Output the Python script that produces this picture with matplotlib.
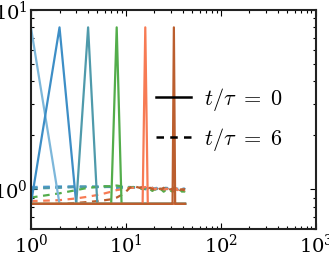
import matplotlib
matplotlib.use("Agg")
import matplotlib.pyplot as plt

plt.rcParams['mathtext.fontset'] = 'cm'
plt.rcParams['font.family'] = ['DejaVu Serif']

x = list(range(1, 43))
peaks = [1, 2, 4, 8, 16, 32]
colors = ['#7db7da', '#3d8ec6', '#4f9aab', '#53ad4b', '#f77b54', '#bb5e2e']
base = 0.83
peak_h = 8.0

dash_lb = [1.03,1.04,1.03,1.03,1.04,1.03,1.03,1.02,1.03,1.04,1.03,1.03,1.02,1.03,1.02,1.01,1.02,1.01,1.0,1.01,
           1.02,1.0,1.01,1.02,1.0,1.01,1.0,1.02,1.01,1.0,1.01,1.0,1.02,1.0,1.01,1.0,1.01,1.0,1.0,1.01,1.0,1.0]
dash_b = [1.02,1.03,1.04,1.03,1.03,1.04,1.03,1.02,1.03,1.03,1.02,1.03,1.02,1.02,1.01,1.02,1.0,1.01,1.02,1.0,
          1.01,1.0,1.02,1.01,1.0,1.01,1.02,1.0,1.0,1.01,1.0,1.02,1.01,1.0,1.0,1.01,1.0,1.01,1.0,1.0,1.01,1.0]
dash_t = [1.01,1.02,1.03,1.04,1.03,1.03,1.04,1.03,1.02,1.03,1.02,1.02,1.03,1.01,1.02,1.0,1.01,1.02,1.0,1.01,
          1.0,1.02,1.0,1.01,1.0,1.02,1.01,1.0,1.01,1.0,1.0,1.02,1.0,1.01,1.0,1.0,1.01,1.0,1.0,1.0,1.0,1.0]
dash_g = [0.90,0.95,0.99,1.02,1.03,1.04,1.04,1.05,1.04,1.03,1.02,1.03,1.01,1.02,1.0,1.01,0.99,1.0,0.98,1.0,
          0.99,0.98,1.0,0.99,0.97,0.99,0.98,0.97,0.99,0.98,0.97,0.98,0.99,0.97,0.98,0.97,0.98,0.99,0.97,0.98,0.97,0.98]
dash_o = [0.86,0.87,0.89,0.91,0.93,0.95,0.97,0.99,1.0,1.01,1.02,1.02,1.03,1.02,1.02,1.03,1.02,1.01,1.02,1.0,
          1.01,1.02,1.0,1.01,1.0,1.0,1.01,1.0,0.99,1.0,1.0,0.99,1.0,1.01,0.99,1.0,0.99,1.0,0.99,1.0,0.99,0.99]
dash_br = [0.83,0.83,0.84,0.85,0.86,0.87,0.88,0.90,0.93,0.97,1.02,1.05,1.03,1.02,1.03,1.02,1.01,1.02,1.0,1.01,
           1.02,1.0,1.01,1.0,1.02,1.0,1.0,1.01,1.0,1.0,1.01,1.02,1.0,1.01,1.0,1.0,0.99,1.0,1.0,0.99,1.0,1.0]
dashed = [dash_lb, dash_b, dash_t, dash_g, dash_o, dash_br]

fig = plt.figure(figsize=(3.29, 2.56), dpi=100)
ax = fig.add_axes([0.094, 0.105, 0.866, 0.856])

for p, c, d in zip(peaks, colors, dashed):
    ax.plot(x, d, color=c, lw=1.6, ls='--', dashes=(3, 2.5))
for p, c in zip(peaks, colors):
    y = [peak_h if xi == p else base for xi in x]
    ax.plot(x, y, color=c, lw=1.6)

ax.set_xscale('log')
ax.set_yscale('log')
ax.set_xlim(1, 1000)
ax.set_ylim(0.6, 10)

for s in ax.spines.values():
    s.set_linewidth(1.5)
    s.set_color('#222222')
ax.tick_params(which='both', direction='in', top=True, right=True, labelsize=14, width=0.8)
ax.tick_params(which='major', length=4)
ax.tick_params(which='minor', length=2)
ax.tick_params(axis='y', pad=2)

h1, = ax.plot([], [], color='black', lw=1.8, ls='-')
h2, = ax.plot([], [], color='black', lw=1.8, ls='--', dashes=(3, 2.5))
ax.legend([h1, h2], [r'$t/\tau\ =\ 0$', r'$t/\tau\ =\ 6$'], frameon=False, fontsize=16,
          loc='center left', bbox_to_anchor=(0.368, 0.50), handlelength=1.6,
          handletextpad=0.55, labelspacing=0.6)

fig.savefig('out.png', dpi=100)
